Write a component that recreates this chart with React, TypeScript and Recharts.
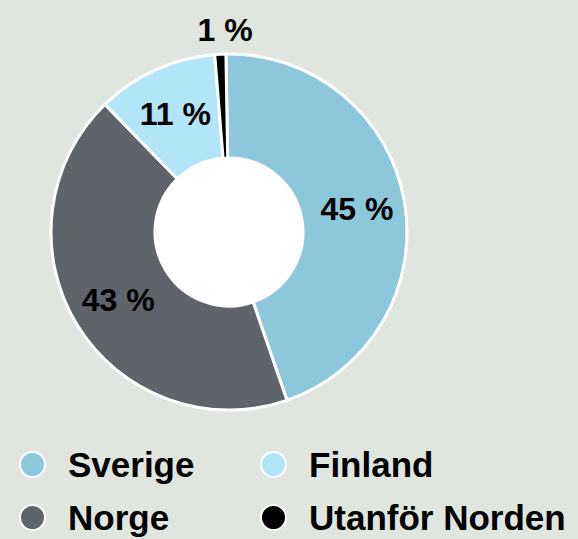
import React from 'react';
import { PieChart, Pie, Cell, Legend } from 'recharts';

const regions = ['Sverige', 'Norge', 'Finland', 'Utanför Norden'];
const shares = [45, 43, 11, 1];
const colors = ['#8dc7dc', '#5f636a', '#b3e5f8', '#000000'];

const data = regions.map((name, i) => ({ name, value: shares[i] }));

const BG = '#e1e5df';
const FONT = '"Liberation Sans", Arial, sans-serif';
const RAD = Math.PI / 180;

const renderLabel = (props: any) => {
  const { cx, cy, midAngle, innerRadius, outerRadius, value } = props;
  const r = value < 3 ? outerRadius + 24 : (innerRadius + outerRadius) / 2 + 4;
  const x = cx + r * Math.cos(-midAngle * RAD);
  const y = cy + r * Math.sin(-midAngle * RAD);
  return (
    <text
      x={value < 3 ? x + 6 : x}
      y={y}
      textAnchor="middle"
      dominantBaseline="central"
      fontFamily={FONT}
      fontWeight={700}
      fontSize={32}
      fill="#000"
    >
      {`${value} %`}
    </text>
  );
};

const LegendBox = () => (
  <div
    style={{
      display: 'grid',
      gridTemplateColumns: '241px 337px',
      gridTemplateRows: '53px 53px',
      gridAutoFlow: 'column',
      fontFamily: FONT,
      fontWeight: 700,
      fontSize: 35,
      color: '#000',
      whiteSpace: 'nowrap',
    }}
  >
    {data.map((d, i) => (
      <div key={d.name} style={{ display: 'flex', alignItems: 'center' }}>
        <span
          style={{
            display: 'inline-block',
            flex: 'none',
            width: 27,
            height: 27,
            borderRadius: '50%',
            background: colors[i],
            border: '2px solid #fff',
            marginLeft: 19,
            marginRight: 22,
            boxSizing: 'border-box',
          }}
        />
        <span>{d.name}</span>
      </div>
    ))}
  </div>
);

export default function App() {
  return (
    <div
      style={{
        position: 'fixed',
        top: 0,
        left: 0,
        width: 578,
        height: 539,
        background: BG,
        overflow: 'hidden',
      }}
    >
      <PieChart width={578} height={539} margin={{ top: 0, right: 0, bottom: 0, left: 0 }}>
        <Pie
          data={data}
          dataKey="value"
          nameKey="name"
          cx={229}
          cy={232}
          innerRadius={74}
          outerRadius={178}
          startAngle={91}
          endAngle={-269}
          stroke="#fff"
          strokeWidth={3}
          label={renderLabel}
          labelLine={false}
          isAnimationActive={false}
        >
          {data.map((d, i) => (
            <Cell key={d.name} fill={colors[i]} />
          ))}
        </Pie>
        <Pie
          data={[{ name: 'hole', value: 1 }]}
          dataKey="value"
          cx={229}
          cy={232}
          innerRadius={0}
          outerRadius={74}
          fill="#fff"
          stroke="#fff"
          isAnimationActive={false}
        />
        <Legend
          content={<LegendBox />}
          wrapperStyle={{ top: 438, left: 0, width: 578 }}
        />
      </PieChart>
    </div>
  );
}
